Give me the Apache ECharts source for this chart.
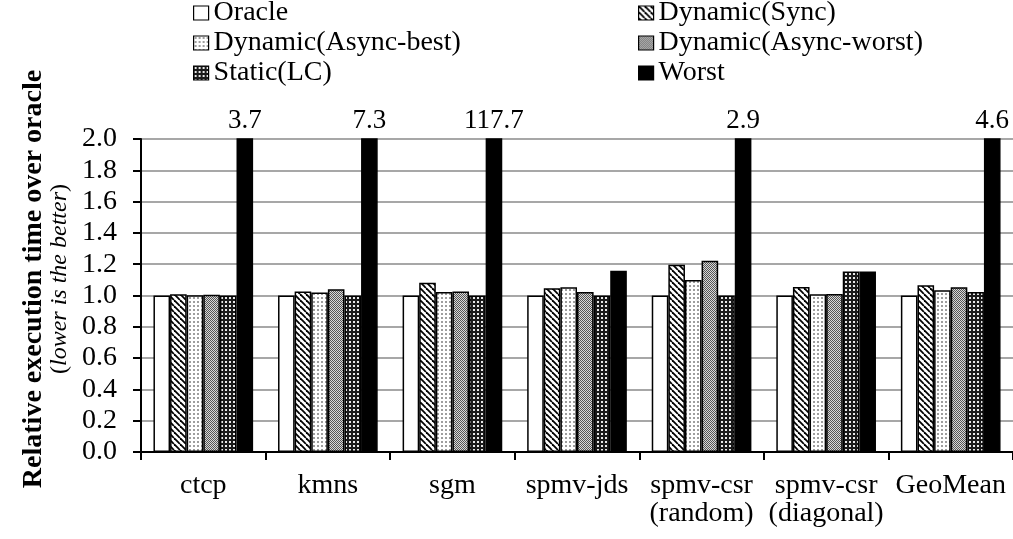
<!DOCTYPE html>
<html>
<head>
<meta charset="utf-8">
<script src="https://cdn.jsdelivr.net/npm/echarts@6/dist/echarts.min.js"></script>
<style>
  html, body { margin: 0; padding: 0; background: #fff; }
  #chart { width: 1013px; height: 539px; }
</style>
</head>
<body>
<div id="chart"></div>
<script>
// Benchmarks and relative execution times (normalised to the oracle schedule)
const categories = ['ctcp', 'kmns', 'sgm', 'spmv-jds', 'spmv-csr\n(random)', 'spmv-csr\n(diagonal)', 'GeoMean'];
const seriesNames = ['Oracle', 'Dynamic(Sync)', 'Dynamic(Async-best)', 'Dynamic(Async-worst)', 'Static(LC)', 'Worst'];
const oracle     = [1.000, 1.000, 1.000, 1.000, 1.000, 1.000, 1.000];
const dynSync    = [1.008, 1.025, 1.082, 1.046, 1.196, 1.055, 1.065];
const asyncBest  = [1.002, 1.019, 1.023, 1.053, 1.099, 1.008, 1.034];
const asyncWorst = [1.005, 1.040, 1.025, 1.023, 1.222, 1.010, 1.053];
const staticLC   = [1.000, 1.000, 1.000, 1.000, 1.000, 1.154, 1.023];
const worst      = [3.7, 7.3, 117.7, 1.158, 2.9, 1.154, 4.6];
const yMin = 0, yMax = 2.0, yStep = 0.2;

const FONT = "'Liberation Serif', 'Times New Roman', serif";

// Monochrome fill patterns
function tile(size, draw) {
  const c = document.createElement('canvas');
  c.width = size; c.height = size;
  const g = c.getContext('2d');
  draw(g, size);
  return { image: c, repeat: 'repeat' };
}
const patDiag = tile(6, (g, s) => {
  g.fillStyle = '#fff'; g.fillRect(0, 0, s, s);
  g.strokeStyle = '#000'; g.lineWidth = 1.8;
  for (let k = -1; k <= 1; k++) {
    g.beginPath(); g.moveTo(k * s, 0); g.lineTo(k * s + s, s); g.stroke();
  }
});
const patLightDots = tile(4, (g, s) => {
  g.fillStyle = '#fff'; g.fillRect(0, 0, s, s);
  g.fillStyle = '#bdbdbd'; g.fillRect(1, 1, 2, 2);
  g.fillStyle = '#444'; g.fillRect(1.5, 1.5, 1, 1);
});
const patChecker = tile(2, (g, s) => {
  g.fillStyle = '#d8d8d8'; g.fillRect(0, 0, s, s);
  g.fillStyle = '#555'; g.fillRect(0, 0, 1, 1); g.fillRect(1, 1, 1, 1);
});
const patDarkDots = tile(4, (g, s) => {
  g.fillStyle = '#1a1a1a'; g.fillRect(0, 0, s, s);
  g.fillStyle = '#e8e8e8'; g.fillRect(1, 1, 2, 2);
});
const fills = ['#ffffff', patDiag, patLightDots, patChecker, patDarkDots, '#000000'];
const values = [oracle, dynSync, asyncBest, asyncWorst, staticLC, worst];

const series = seriesNames.map((name, i) => ({
  name,
  type: 'bar',
  barGap: '0%',
  barCategoryGap: '20%',
  clip: true,
  itemStyle: { color: fills[i], borderColor: '#000', borderWidth: 1.5 },
  emphasis: { disabled: true },
  data: values[i].map(v => ({
    value: v,
    label: {
      show: name === 'Worst' && v > yMax,
      position: 'top',
      distance: 4,
      formatter: () => v.toFixed(1),
      color: '#000',
      fontFamily: FONT,
      fontSize: 27
    }
  }))
}));

const legendCommon = {
  orient: 'vertical',
  top: -2,
  padding: 0,
  itemGap: 0,
  itemWidth: 15,
  itemHeight: 14,
  icon: 'rect',
  selectedMode: false,
  itemStyle: { borderColor: '#000', borderWidth: 1.2 },
  textStyle: { color: '#000', fontFamily: FONT, fontSize: 28, lineHeight: 30 }
};

const chart = echarts.init(document.getElementById('chart'), null, { renderer: 'canvas' });
chart.setOption({
  animation: false,
  backgroundColor: '#fff',
  legend: [
    Object.assign({ left: 193, data: [seriesNames[0], seriesNames[2], seriesNames[4]] }, legendCommon),
    Object.assign({ left: 638, data: [seriesNames[1], seriesNames[3], seriesNames[5]] }, legendCommon)
  ],
  grid: { left: 141, top: 139, width: 875, height: 313, containLabel: false },
  xAxis: {
    type: 'category',
    data: categories,
    axisLine: { lineStyle: { color: '#000', width: 2 } },
    axisTick: { show: true, length: 8, lineStyle: { color: '#000', width: 2 } },
    axisLabel: {
      color: '#000', fontFamily: FONT, fontSize: 28, lineHeight: 28,
      margin: 20, interval: 0
    }
  },
  yAxis: {
    type: 'value',
    min: yMin, max: yMax, interval: yStep,
    axisLine: { show: true, lineStyle: { color: '#000', width: 2 } },
    axisTick: { show: true, length: 8, lineStyle: { color: '#000', width: 2 } },
    axisLabel: {
      color: '#000', fontFamily: FONT, fontSize: 28, margin: 24,
      formatter: v => v.toFixed(1)
    },
    splitLine: { show: true, lineStyle: { color: '#8a8a8a', width: 1.5 } }
  },
  graphic: [
    {
      type: 'text',
      x: 34, y: 279,
      rotation: Math.PI / 2,
      style: {
        text: 'Relative execution time over oracle',
        font: "bold 28px " + FONT,
        fill: '#000',
        textAlign: 'center',
        textVerticalAlign: 'middle'
      }
    },
    {
      type: 'text',
      x: 60, y: 279,
      rotation: Math.PI / 2,
      style: {
        text: '{n|(}{i|lower is the better}{n|)}',
        textAlign: 'center',
        textVerticalAlign: 'middle',
        rich: {
          n: { fontFamily: FONT, fontSize: 24, fill: '#000', color: '#000' },
          i: { fontFamily: FONT, fontSize: 24, fontStyle: 'italic', fill: '#000', color: '#000' }
        }
      }
    }
  ],
  series
});
</script>
</body>
</html>
